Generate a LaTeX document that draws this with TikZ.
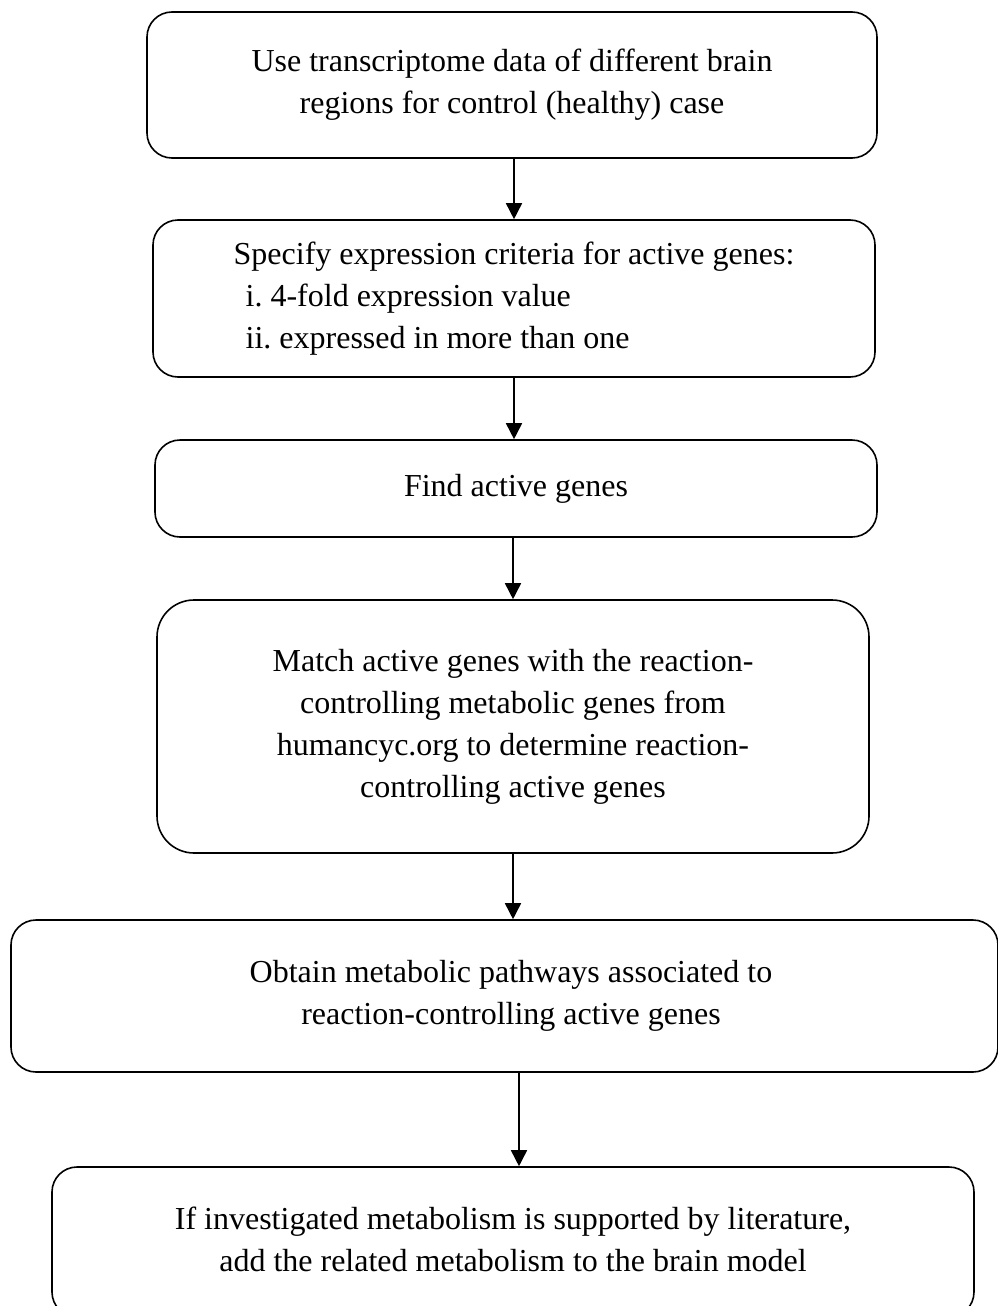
\documentclass[tikz,border=0pt]{standalone}
\usepackage{fontspec}
\setmainfont{Liberation Serif}
\usetikzlibrary{arrows.meta}
\frenchspacing
\begin{document}
\begin{tikzpicture}[x=1pt,y=-1pt,
  box/.style={draw=black, line width=1.6pt, rounded corners=25pt, align=center,
    font=\fontsize{32}{42}\selectfont, inner sep=0pt},
  txt/.style={align=center, font=\fontsize{32}{42}\selectfont, inner sep=0pt},
  arr/.style={line width=1.6pt, -{Triangle[length=16pt,width=16pt]}},
]
\useasboundingbox (0,0) rectangle (997,1306);

\node[box, minimum width=730, minimum height=146] (b1) at (512,85)
  {Use transcriptome data of different brain\\ regions for control (healthy) case};

\node[box, minimum width=722, minimum height=157] (b2) at (514,298.5)
  {\begin{tabular}{@{}l@{}}Specify expression criteria for active genes:\\
   \hspace*{12pt}i. 4-fold expression value\\
   \hspace*{12pt}ii. expressed in more than one\end{tabular}};

\node[box, minimum width=722, minimum height=97] (b3) at (516,488.5)
  {Find active genes};

\node[box, rounded corners=37pt, minimum width=712, minimum height=253] (b4) at (513,726.5)
  {Match active genes with the reaction-\\ controlling metabolic genes from\\
   humancyc.org to determine reaction-\\ controlling active genes};

\node[box, minimum width=987, minimum height=152] (b5) at (504.5,996) {};
\node[txt] (t5) at (511,996)
  {Obtain metabolic pathways associated to\\ reaction-controlling active genes};

\node[box, minimum width=922, minimum height=150] (b6) at (513,1242)
  {};
\node[txt] (t6) at (513,1239)
  {If investigated metabolism is supported by literature,\\ add the related metabolism to the brain model};

\draw[arr] (b1.south -| 514,0) -- (b2.north -| 514,0);
\draw[arr] (b2.south -| 514,0) -- (b3.north -| 514,0);
\draw[arr] (b3.south -| 513,0) -- (b4.north -| 513,0);
\draw[arr] (b4.south -| 513,0) -- (b5.north -| 513,0);
\draw[arr] (b5.south -| 519,0) -- (b6.north -| 519,0);
\end{tikzpicture}
\end{document}
